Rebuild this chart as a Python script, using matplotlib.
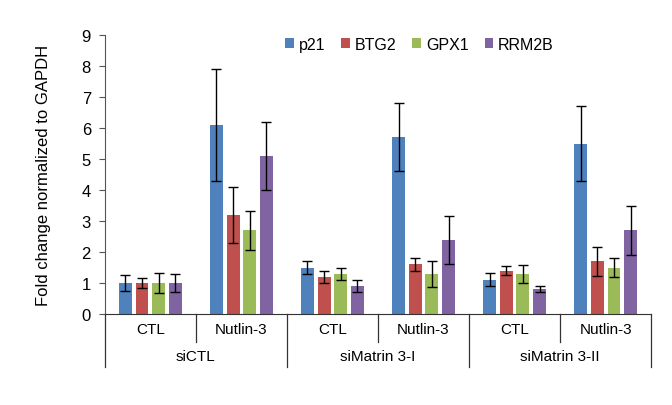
import numpy as np
import matplotlib
matplotlib.use('Agg')
import matplotlib.pyplot as plt

plt.rcParams['font.family'] = ['Liberation Sans', 'DejaVu Sans']

# data
conditions = ['CTL', 'Nutlin-3', 'CTL', 'Nutlin-3', 'CTL', 'Nutlin-3']
groups     = ['siCTL', 'siMatrin 3-I', 'siMatrin 3-II']
genes      = ['p21', 'BTG2', 'GPX1', 'RRM2B']

p21       = [1.0, 6.1, 1.5, 5.7, 1.1, 5.5]
p21_err   = [0.27, 1.8, 0.2, 1.1, 0.21, 1.2]
btg2      = [1.0, 3.2, 1.2, 1.6, 1.4, 1.7]
btg2_err  = [0.17, 0.9, 0.2, 0.22, 0.15, 0.47]
gpx1      = [1.0, 2.7, 1.3, 1.3, 1.3, 1.5]
gpx1_err  = [0.32, 0.62, 0.2, 0.42, 0.29, 0.32]
rrm2b     = [1.0, 5.1, 0.9, 2.4, 0.8, 2.7]
rrm2b_err = [0.3, 1.1, 0.2, 0.78, 0.1, 0.8]

colors = ['#4F81BD', '#C0504D', '#9BBB59', '#8064A2']

fig = plt.figure(figsize=(6.72, 4.06), dpi=100)
ax = fig.add_axes([0.156, 0.224, 0.813, 0.687])

x = np.arange(len(conditions))
width = 0.142
step = 0.183
series = [(p21, p21_err), (btg2, btg2_err), (gpx1, gpx1_err), (rrm2b, rrm2b_err)]
for i, (vals, errs) in enumerate(series):
    pos = x + (i - 1.5) * step
    ax.bar(pos, vals, width, color=colors[i], label=genes[i], zorder=2)
    ax.errorbar(pos, vals, yerr=errs, fmt='none', ecolor='black',
                elinewidth=1, capsize=3.5, capthick=1, zorder=3)

ax.set_xlim(-0.5, len(conditions) - 0.5)
ax.set_ylim(0, 9)
ax.set_yticks(range(0, 10))
ax.tick_params(axis='y', labelsize=12, length=4, width=0.8, color='#555555', pad=6)
ax.set_xticks([])
for s in ['top', 'right']:
    ax.spines[s].set_visible(False)
ax.spines['left'].set_color('#555555')
ax.spines['bottom'].set_color('#333333')
ax.set_ylabel('Fold change normalized to GAPDH', fontsize=12)
ax.yaxis.set_label_coords(-0.098, 0.5)

# two-level category axis
trans = ax.get_xaxis_transform()
y_inner = -0.10
y_outer = -0.19
for k in range(len(conditions) + 1):
    xb = k - 0.5
    ybot = y_outer if k % 2 == 0 else y_inner
    ax.plot([xb, xb], [0, ybot], transform=trans, color='#333333', lw=0.9, clip_on=False)
for k, c in enumerate(conditions):
    ax.text(k, -0.055, c, transform=trans, ha='center', va='center', fontsize=11)
for g, name in enumerate(groups):
    ax.text(2 * g + 0.5, -0.15, name, transform=trans, ha='center', va='center', fontsize=11)

ax.legend(loc='upper center', bbox_to_anchor=(0.576, 1.045), ncol=4, frameon=False,
          fontsize=11.5, handlelength=0.55, handleheight=0.55, handletextpad=0.3,
          columnspacing=1.0)

fig.savefig('out.png', dpi=100)
